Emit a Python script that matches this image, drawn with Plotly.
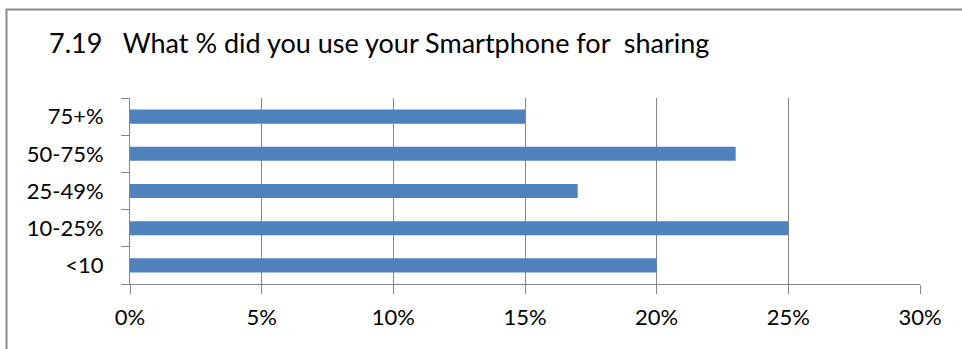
import plotly.graph_objects as go

categories = ["<10", "10-25%", "25-49%", "50-75%", "75+%"]
values = [20, 25, 17, 23, 15]
x_ticks = [0, 5, 10, 15, 20, 25, 30]
x_tick_labels = ["0%", "5%", "10%", "15%", "20%", "25%", "30%"]

FONT = "Lato, Open Sans, sans-serif"
GRID = "#868686"

fig = go.Figure(go.Bar(
    x=values, y=categories, orientation="h",
    marker=dict(color="#4F81BD", line=dict(width=0)),
    width=0.38,
))

W, H = 962, 349
L, R, T, B = 130, 42, 98, 65
pw = W - L - R
ph = H - T - B

def px(xpix):
    return (xpix - L) / pw

def py(ypix):
    return (H - B - ypix) / ph

# outer chart border (left and top visible; right/bottom fall outside the crop)
fig.add_shape(type="rect", xref="paper", yref="paper",
              x0=px(6.5), x1=px(975), y0=py(365), y1=py(9.5),
              line=dict(color="#8a8a8a", width=2), fillcolor="rgba(0,0,0,0)", layer="below")

fig.update_layout(
    width=W, height=H,
    margin=dict(l=L, r=R, t=T, b=B, autoexpand=False),
    paper_bgcolor="white", plot_bgcolor="white",
    showlegend=False,
    font=dict(family=FONT, color="black", size=22),
    title=dict(text="7.19   What % did you use your Smartphone for  sharing",
               font=dict(family=FONT, size=27, color="black"),
               xref="container", x=49 / W, xanchor="left",
               yref="container", y=1 - 44 / H, yanchor="middle"),
    xaxis=dict(range=[0, 30], tickvals=x_ticks, ticktext=x_tick_labels,
               showgrid=True, gridcolor=GRID, gridwidth=1,
               showline=True, linecolor=GRID, linewidth=1,
               ticks="outside", ticklen=9, tickcolor=GRID,
               zeroline=False, ticklabelstandoff=5, automargin=False),
    yaxis=dict(categoryorder="array", categoryarray=categories,
               showline=True, linecolor=GRID, linewidth=1,
               ticks="outside", ticklen=8, tickcolor=GRID,
               tickson="boundaries", showgrid=False,
               ticklabelstandoff=21, automargin=False),
)

fig.write_html("out.html", config={"displayModeBar": False},
               post_script="document.body.style.margin='0';")
